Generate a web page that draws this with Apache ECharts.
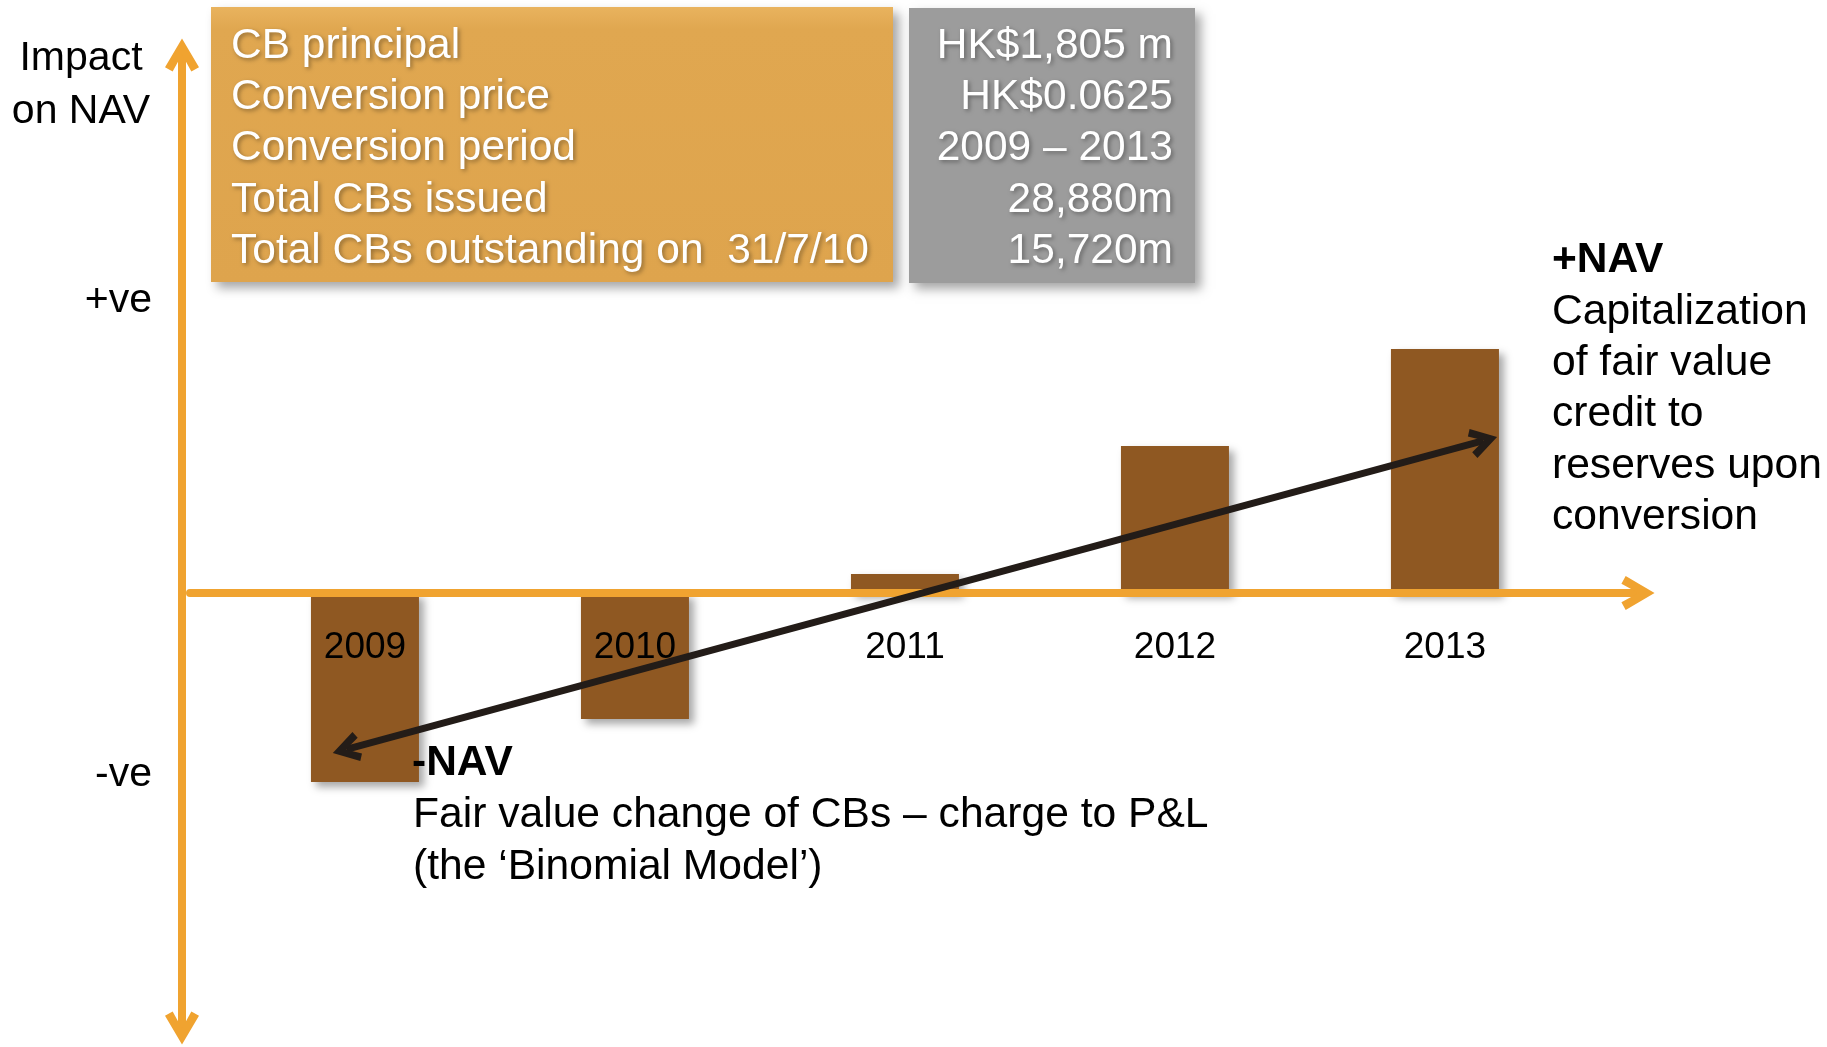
<!DOCTYPE html>
<html>
<head>
<meta charset="utf-8">
<title>CB impact on NAV</title>
<script src="https://cdn.jsdelivr.net/npm/echarts@6/dist/echarts.min.js"></script>
<style>
    html, body {margin: 0; padding: 0; background: #fff;}
    #chart {width: 1827px; height: 1047px;}
</style>
</head>
<body>
<div id="chart"></div>
<script>
// data
var years = [2009, 2010, 2011, 2012, 2013];
var navImpact = [-189, -126, 19, 147, 244];
var signLevels = [292, -182];           // where "+ve" / "-ve" sit on the impact axis
var arrowEnds = [[2013.143, 152.3], [2008.931, -156.3]];

var tableLabels = ['CB principal', 'Conversion price', 'Conversion period', 'Total CBs issued', 'Total CBs outstanding on  31/7/10'];
var tableValues = ['HK$1,805 m', 'HK$0.0625', '2009 \u2013 2013', '28,880m', '15,720m'];

var plusNote = ['Capitalization', 'of fair value', 'credit to', 'reserves upon', 'conversion'];
var minusNote = ['Fair value change of CBs \u2013 charge to P&L', '(the \u2018Binomial Model\u2019)'];

var FONT = '"Liberation Sans", Arial, Helvetica, sans-serif';
var ORANGE = '#F0A330';
// open arrow head, pointing up
var chevron = 'path://M20,0 L40,34 L31,39 L20,19 L9,39 L0,34 Z';

var chart = echarts.init(document.getElementById('chart'));

var barData = years.map(function (y, i) {
    return [y, navImpact[i]];
});
var yearMarks = years.map(function (y) {
    return [y, 0];
});

// texts drawn around the plot
var graphics = [];

function boxText(lines, x, align) {
    return lines.map(function (t, i) {
        return {
            type: 'text',
            x: x, y: 46 + i * 51.3,
            style: {
                text: t, font: '42.5px ' + FONT, fill: '#fff',
                textAlign: align, textVerticalAlign: 'middle',
                textShadowColor: 'rgba(0,0,0,0.35)', textShadowBlur: 4,
                textShadowOffsetX: 2, textShadowOffsetY: 2
            },
            z: 10
        };
    });
}

function note(t, x, y, weight, size) {
    return {
        type: 'text', x: x, y: y, z: 10,
        style: {text: t, font: weight + ' ' + size + 'px ' + FONT, fill: '#000', textVerticalAlign: 'middle'}
    };
}

graphics.push({
    type: 'rect', shape: {x: 211, y: 7, width: 682, height: 275},
    style: {
        fill: new echarts.graphic.LinearGradient(0, 0, 0, 1, [
            {offset: 0, color: '#E9B35E'}, {offset: 0.08, color: '#E0A750'}, {offset: 1, color: '#DEA44D'}
        ]),
        shadowBlur: 10, shadowColor: 'rgba(0,0,0,0.35)', shadowOffsetX: 6, shadowOffsetY: 6
    },
    z: 9
});
graphics.push({
    type: 'rect', shape: {x: 909, y: 8, width: 286, height: 275},
    style: {
        fill: '#9C9C9C',
        shadowBlur: 10, shadowColor: 'rgba(0,0,0,0.35)', shadowOffsetX: 6, shadowOffsetY: 6
    },
    z: 9
});
graphics = graphics.concat(boxText(tableLabels, 231, 'left'));
graphics = graphics.concat(boxText(tableValues, 1173, 'right'));

['Impact', 'on NAV'].forEach(function (t, i) {
    graphics.push({
        type: 'text', x: 81, y: 59 + i * 53, z: 10,
        style: {text: t, font: '41px ' + FONT, fill: '#000', textAlign: 'center', textVerticalAlign: 'middle'}
    });
});

graphics.push(note('+NAV', 1552, 260, 'bold', 42.5));
plusNote.forEach(function (t, i) {
    graphics.push(note(t, 1552, 312 + i * 51.3, 'normal', 42.6));
});
graphics.push(note('-NAV', 412, 763, 'bold', 42.5));
minusNote.forEach(function (t, i) {
    graphics.push(note(t, 413, 815 + i * 52, 'normal', 42.6));
});

var option = {
    animation: false,
    backgroundColor: '#fff',
    grid: {left: 190, right: 189, top: 55, bottom: 19, containLabel: false, outerBoundsMode: 'none'},
    xAxis: {
        type: 'value',
        min: 2008.352,
        max: 2013.715,
        z: 3,
        splitLine: {show: false},
        axisTick: {show: false},
        axisLabel: {show: false},
        axisLine: {
            show: true, onZero: true,
            symbol: ['none', chevron], symbolSize: [34, 34],
            lineStyle: {color: ORANGE, width: 8}
        }
    },
    yAxis: {
        type: 'value',
        min: -435,
        max: 538,
        offset: 8,
        splitLine: {show: false},
        axisTick: {show: false},
        axisLine: {
            show: true, onZero: false,
            symbol: [chevron, chevron], symbolSize: [34, 34],
            lineStyle: {color: ORANGE, width: 8}
        },
        axisLabel: {
            customValues: signLevels,
            formatter: function (v) { return v > 0 ? '+ve' : '-ve'; },
            margin: 30,
            color: '#000',
            fontSize: 41,
            fontFamily: FONT
        }
    },
    graphic: graphics,
    series: [{
        type: 'bar',
        data: barData,
        barWidth: 108,
        silent: true,
        itemStyle: {
            color: '#8F5822',
            shadowBlur: 8, shadowColor: 'rgba(0,0,0,0.35)', shadowOffsetX: 5, shadowOffsetY: 5
        },
        markLine: {
            silent: true,
            z: 6,
            symbol: [chevron, chevron],
            symbolSize: [30, 28],
            label: {show: false},
            emphasis: {disabled: true},
            lineStyle: {color: '#231C18', width: 7, type: 'solid', opacity: 1},
            data: [[{coord: arrowEnds[0]}, {coord: arrowEnds[1]}]]
        }
    }, {
        // year labels sitting just under the zero line
        type: 'scatter',
        data: yearMarks,
        symbolSize: 0,
        silent: true,
        z: 4,
        label: {
            show: true,
            position: 'bottom',
            distance: 36,
            formatter: function (p) { return String(p.value[0]); },
            color: '#000',
            opacity: 1,
            fontSize: 37,
            fontFamily: FONT
        }
    }]
};

chart.setOption(option);
</script>
</body>
</html>
